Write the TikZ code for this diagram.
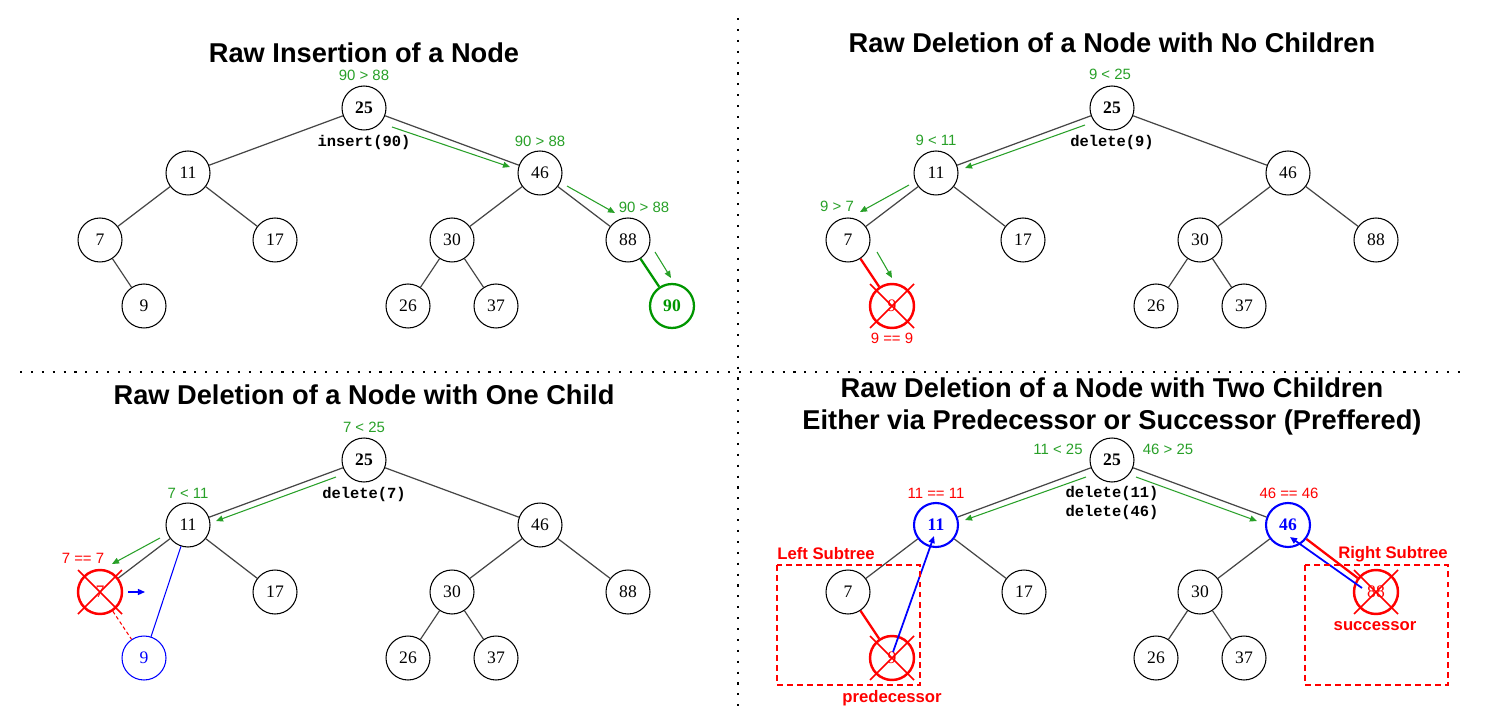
\documentclass[tikz,border=0pt]{standalone}
\usepackage{fontspec}
\setmainfont{Liberation Serif}
\setsansfont{Liberation Sans}
\setmonofont{Liberation Mono}
\usepackage{xcolor}
\definecolor{walkgreen}{RGB}{40,160,40}
\definecolor{newgreen}{RGB}{0,150,0}
\definecolor{hitred}{RGB}{255,0,0}
\definecolor{swapblue}{RGB}{0,0,255}
\definecolor{edgegray}{RGB}{70,70,70}
\usetikzlibrary{arrows.meta, calc}

% cross drawn over a removed key
\newcommand{\strikenode}[1]{%
  \draw[strike] ($(#1)+(-22,-22)$) -- ($(#1)+(22,22)$)
                ($(#1)+(-22,22)$) -- ($(#1)+(22,-22)$);}

\begin{document}
\begin{tikzpicture}[x=0.02cm, y=-0.02cm,
  >={Triangle[length=4pt,width=3.4pt]},
  key/.style={
    circle, draw=black, line width=0.6pt,
    minimum size=0.88cm, inner sep=0pt,
    font=\fontsize{10}{12}\selectfont,
  },
  root/.style={key, font=\fontsize{10}{12}\selectfont\bfseries},
  added/.style={key, draw=newgreen, line width=1.3pt, text=newgreen,
    font=\fontsize{10}{12}\selectfont\bfseries},
  gone/.style={key, draw=hitred, line width=1.4pt, text=hitred},
  found/.style={key, draw=swapblue, line width=1.2pt, text=swapblue,
    font=\fontsize{10}{12}\selectfont\bfseries},
  moved/.style={key, draw=swapblue, line width=0.6pt, text=swapblue},
  link/.style={draw=edgegray, line width=0.7pt},
  redlink/.style={draw=hitred, line width=1.3pt},
  strike/.style={draw=hitred, line width=0.9pt},
  walk/.style={->, draw=walkgreen, line width=0.6pt},
  swap/.style={->, draw=swapblue, line width=1pt},
  cmp/.style={font=\sffamily\fontsize{8.5}{10}\selectfont, text=walkgreen},
  hit/.style={font=\sffamily\fontsize{8.5}{10}\selectfont, text=hitred},
  call/.style={font=\ttfamily\bfseries\fontsize{8.8}{10.5}\selectfont},
  heading/.style={font=\sffamily\bfseries\fontsize{15.5}{18.5}\selectfont},
  side/.style={font=\sffamily\bfseries\fontsize{9.5}{11}\selectfont, text=hitred},
  subtree/.style={draw=hitred, line width=0.8pt, dash pattern=on 3.4pt off 2.3pt},
  divider/.style={draw=black, line width=1.2pt, dash pattern=on 1.2pt off 5pt},
]
\useasboundingbox (0,0) rectangle (1485,726);

% --- Dividers ---
\draw[divider] (738,18) -- (738,708);
\draw[divider] (20,372) -- (1465,372);

% --- Insertion ---
\node[heading] at (364,53) {Raw Insertion of a Node};
\node[root] (i25) at (364,108) {25};
\node[key] (i11) at (188,173) {11};
\node[key] (i46) at (540,173) {46};
\node[key] (i7) at (100,240) {7};
\node[key] (i17) at (275,240) {17};
\node[key] (i30) at (452,240) {30};
\node[key] (i88) at (628,240) {88};
\node[key] (i9) at (144,306) {9};
\node[key] (i26) at (408,306) {26};
\node[key] (i37) at (496,306) {37};
\node[added] (i90) at (672,306) {90};
\draw[link] (i25) -- (i11) (i25) -- (i46) (i11) -- (i7) (i11) -- (i17)
            (i7) -- (i9) (i46) -- (i30) (i46) -- (i88) (i30) -- (i26) (i30) -- (i37);
\draw[draw=newgreen, line width=1.3pt] (i88) -- (i90);
\draw[walk] ($(i25)+(28,19)$) -- ($(i46)+(-30,-6)$);
\draw[walk] ($(i46)+(27,13)$) -- ($(i88)+(-13,-27)$);
\draw[walk] ($(i88)+(27,12)$) -- ($(i90)+(-1,-28)$);
\node[cmp] at (364,75) {90 > 88};
\node[cmp] at (540,141) {90 > 88};
\node[cmp] at (644,207) {90 > 88};
\node[call] at (364,143) {insert(90)};

% --- Deletion, no children ---
\node[heading] at (1112,43) {Raw Deletion of a Node with No Children};
\node[root] (n25) at (1112,108) {25};
\node[key] (n11) at (936,173) {11};
\node[key] (n46) at (1288,173) {46};
\node[key] (n7) at (848,240) {7};
\node[key] (n17) at (1023,240) {17};
\node[key] (n30) at (1200,240) {30};
\node[key] (n88) at (1376,240) {88};
\node[gone] (n9) at (892,306) {9};
\node[key] (n26) at (1156,306) {26};
\node[key] (n37) at (1244,306) {37};
\draw[link] (n25) -- (n11) (n25) -- (n46) (n11) -- (n7) (n11) -- (n17)
            (n46) -- (n30) (n46) -- (n88) (n30) -- (n26) (n30) -- (n37);
\draw[redlink] (n7) -- (n9);
\strikenode{n9}
\draw[walk] ($(n25)+(-27,17)$) -- ($(n11)+(29,-5)$);
\draw[walk] ($(n11)+(-27,12)$) -- ($(n7)+(12,-28)$);
\draw[walk] ($(n7)+(29,12)$) -- ($(n9)+(0,-28)$);
\node[cmp] at (1110,74) {9 < 25};
\node[cmp] at (936,140) {9 < 11};
\node[cmp] at (837,206) {9 > 7};
\node[hit] at (892,338) {9 == 9};
\node[call] at (1112,143) {delete(9)};

% --- Deletion, one child ---
\node[heading] at (364,395) {Raw Deletion of a Node with One Child};
\node[root] (o25) at (364,460) {25};
\node[key] (o11) at (188,525) {11};
\node[key] (o46) at (540,525) {46};
\node[gone] (o7) at (100,592) {7};
\node[key] (o17) at (275,592) {17};
\node[key] (o30) at (452,592) {30};
\node[key] (o88) at (628,592) {88};
\node[moved] (o9) at (144,658) {9};
\node[key] (o26) at (408,658) {26};
\node[key] (o37) at (496,658) {37};
\draw[link] (o25) -- (o11) (o25) -- (o46) (o11) -- (o7) (o11) -- (o17)
            (o46) -- (o30) (o46) -- (o88) (o30) -- (o26) (o30) -- (o37);
\strikenode{o7}
\draw[draw=hitred, line width=0.6pt, dash pattern=on 2pt off 1.5pt] (o7) -- (o9);
\draw[draw=swapblue, line width=0.6pt] (o11) -- (o9);
\coordinate (up1) at (128,592);
\coordinate (up2) at (145,592);
\draw[->, draw=swapblue, line width=0.8pt] (up1) -- (up2);
\draw[walk] ($(o25)+(-28,17)$) -- ($(o11)+(28,-4)$);
\draw[walk] ($(o11)+(-28,13)$) -- ($(o7)+(12,-28)$);
\node[cmp] at (364,427) {7 < 25};
\node[cmp] at (188,493) {7 < 11};
\node[hit] at (83,558) {7 == 7};
\node[call] at (364,495) {delete(7)};

% --- Deletion, two children ---
\node[heading] at (1112,388) {Raw Deletion of a Node with Two Children};
\node[heading] at (1112,422) {Either via Predecessor or Successor (Preffered)};
\node[root] (t25) at (1112,460) {25};
\node[found] (t11) at (936,525) {11};
\node[found] (t46) at (1288,525) {46};
\node[key] (t7) at (848,592) {7};
\node[key] (t17) at (1024,592) {17};
\node[key] (t30) at (1200,592) {30};
\node[gone] (t88) at (1376,592) {88};
\node[gone] (t9) at (892,658) {9};
\node[key] (t26) at (1156,658) {26};
\node[key] (t37) at (1244,658) {37};
\draw[link] (t25) -- (t11) (t25) -- (t46) (t11) -- (t7) (t11) -- (t17)
            (t46) -- (t30) (t30) -- (t26) (t30) -- (t37);
\draw[redlink] (t7) -- (t9);
\draw[redlink] (t46) -- (t88);
\strikenode{t9}
\strikenode{t88}
\draw[swap] ($(t9)+(1,-6)$) -- ($(t11)+(-2,11)$);
\draw[swap] ($(t88)+(-14,-4)$) -- ($(t46)+(2,12)$);
\draw[walk] ($(t25)+(-26,17)$) -- ($(t11)+(29,-5)$);
\draw[walk] ($(t25)+(24,17)$) -- ($(t46)+(-31,-4)$);
\draw[subtree] (777,565) rectangle (920,685);
\draw[subtree] (1305,565) rectangle (1448,685);
\node[cmp] at (1058,449) {11 < 25};
\node[cmp] at (1168,449) {46 > 25};
\node[hit] at (936,493) {11 == 11};
\node[hit] at (1289,493) {46 == 46};
\node[call, align=center] at (1112,503) {delete(11)\\delete(46)};
\node[side] at (826,554) {Left Subtree};
\node[side] at (1393,554) {Right Subtree};
\node[side] at (892,698) {predecessor};
\node[side] at (1375,626) {successor};

\end{tikzpicture}
\end{document}
